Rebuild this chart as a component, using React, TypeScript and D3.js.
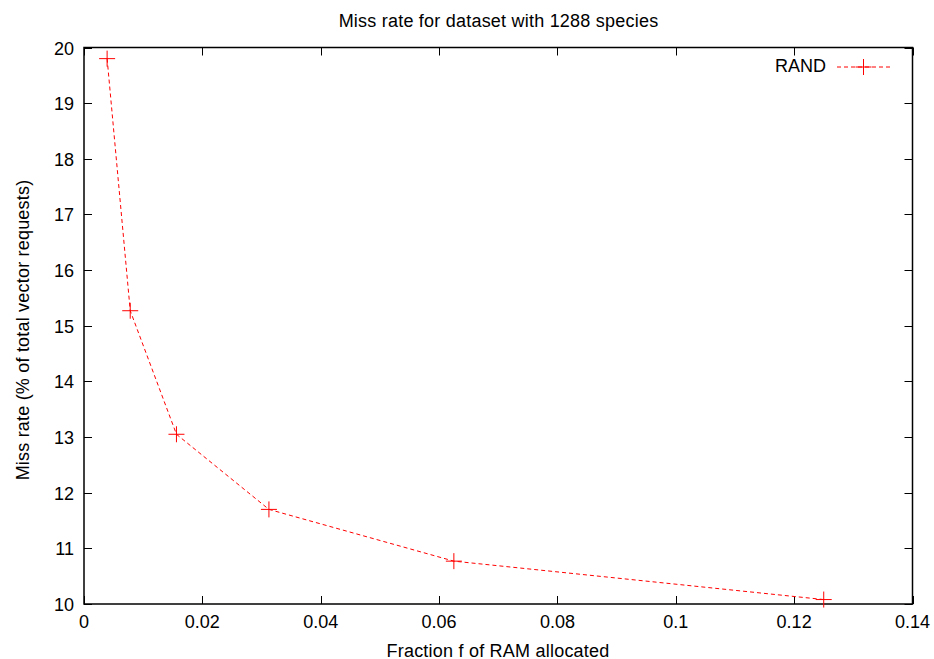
import React, { useEffect, useRef } from 'react';
import * as d3 from 'd3';

const fractions = [1 / 256, 1 / 128, 1 / 64, 1 / 32, 1 / 16, 1 / 8];
const missRates = [19.8, 15.27, 13.05, 11.7, 10.77, 10.08];
const xTicks = [0, 0.02, 0.04, 0.06, 0.08, 0.1, 0.12, 0.14];
const yTicks = [10, 11, 12, 13, 14, 15, 16, 17, 18, 19, 20];
const seriesName = 'RAND';

export default function App() {
  const ref = useRef<SVGSVGElement>(null);

  useEffect(() => {
    document.body.style.margin = '0';
    const svg = d3.select(ref.current);
    svg.selectAll('*').remove();
    const width = 934;
    const height = 659;
    const left = 84;
    const right = 912.5;
    const top = 47.5;
    const bottom = 604;
    const fs = 18;
    const font = 'Liberation Sans, Arial, sans-serif';

    const x = d3.scaleLinear().domain([0, 0.14]).range([left, right]);
    const y = d3.scaleLinear().domain([10, 20]).range([bottom, top]);

    svg.attr('width', width).attr('height', height).style('font-family', font);
    svg.append('rect').attr('width', width).attr('height', height).attr('fill', '#fff');

    const tl = 8;
    const g = svg.append('g').attr('stroke', '#000').attr('stroke-width', 1);
    xTicks.forEach(t => {
      const px = Math.round(x(t)) + 0.5;
      g.append('line').attr('x1', px).attr('x2', px).attr('y1', bottom).attr('y2', bottom - tl);
      g.append('line').attr('x1', px).attr('x2', px).attr('y1', top).attr('y2', top + tl);
    });
    yTicks.forEach(t => {
      const py = Math.round(y(t)) + 0.5;
      g.append('line').attr('x1', left).attr('x2', left + tl).attr('y1', py).attr('y2', py);
      g.append('line').attr('x1', right).attr('x2', right - tl).attr('y1', py).attr('y2', py);
    });
    g.append('rect')
      .attr('x', left)
      .attr('y', top)
      .attr('width', right - left)
      .attr('height', bottom - top)
      .attr('fill', 'none')
      .attr('stroke-width', 1.5);

    svg
      .append('g')
      .selectAll('text')
      .data(xTicks)
      .join('text')
      .attr('x', d => x(d))
      .attr('y', 628)
      .attr('text-anchor', 'middle')
      .attr('font-size', fs)
      .text(d => d3.format('~g')(d));

    svg
      .append('g')
      .selectAll('text')
      .data(yTicks)
      .join('text')
      .attr('x', 74)
      .attr('y', d => y(d) + 7)
      .attr('text-anchor', 'end')
      .attr('font-size', fs)
      .text(d => d);

    svg
      .append('text')
      .attr('x', 498.5)
      .attr('y', 27)
      .attr('text-anchor', 'middle')
      .attr('font-size', fs)
      .attr('letter-spacing', 0.22)
      .text('Miss rate for dataset with 1288 species');

    svg
      .append('text')
      .attr('x', 498)
      .attr('y', 656.5)
      .attr('text-anchor', 'middle')
      .attr('font-size', fs)
      .attr('letter-spacing', 0.22)
      .text('Fraction f of RAM allocated');

    svg
      .append('text')
      .attr('transform', `translate(29, 330) rotate(-90)`)
      .attr('text-anchor', 'middle')
      .attr('font-size', fs)
      .attr('letter-spacing', 0.2)
      .text('Miss rate (% of total vector requests)');

    const pts = fractions.map((f, i) => [f, missRates[i]] as [number, number]);
    const line = d3
      .line<[number, number]>()
      .x(d => x(d[0]))
      .y(d => y(d[1]));

    svg
      .append('path')
      .attr('d', line(pts))
      .attr('fill', 'none')
      .attr('stroke', '#ff0000')
      .attr('stroke-width', 1)
      .attr('stroke-dasharray', '4,3');

    const plus = (px: number, py: number) => {
      const s = 8;
      svg
        .append('path')
        .attr('d', `M${px - s},${py}H${px + s}M${px},${py - s}V${py + s}`)
        .attr('stroke', '#ff0000')
        .attr('stroke-width', 1);
    };
    pts.forEach(d => plus(x(d[0]), y(d[1])));

    // legend
    const ly = 67;
    svg
      .append('text')
      .attr('x', 826)
      .attr('y', 72)
      .attr('text-anchor', 'end')
      .attr('font-size', fs)
      .text(seriesName);
    svg
      .append('line')
      .attr('x1', 837)
      .attr('x2', 890)
      .attr('y1', ly)
      .attr('y2', ly)
      .attr('stroke', '#ff0000')
      .attr('stroke-width', 1)
      .attr('stroke-dasharray', '4,3');
    plus(863.5, ly);
  }, []);

  return <svg ref={ref} style={{ display: 'block' }} />;
}
